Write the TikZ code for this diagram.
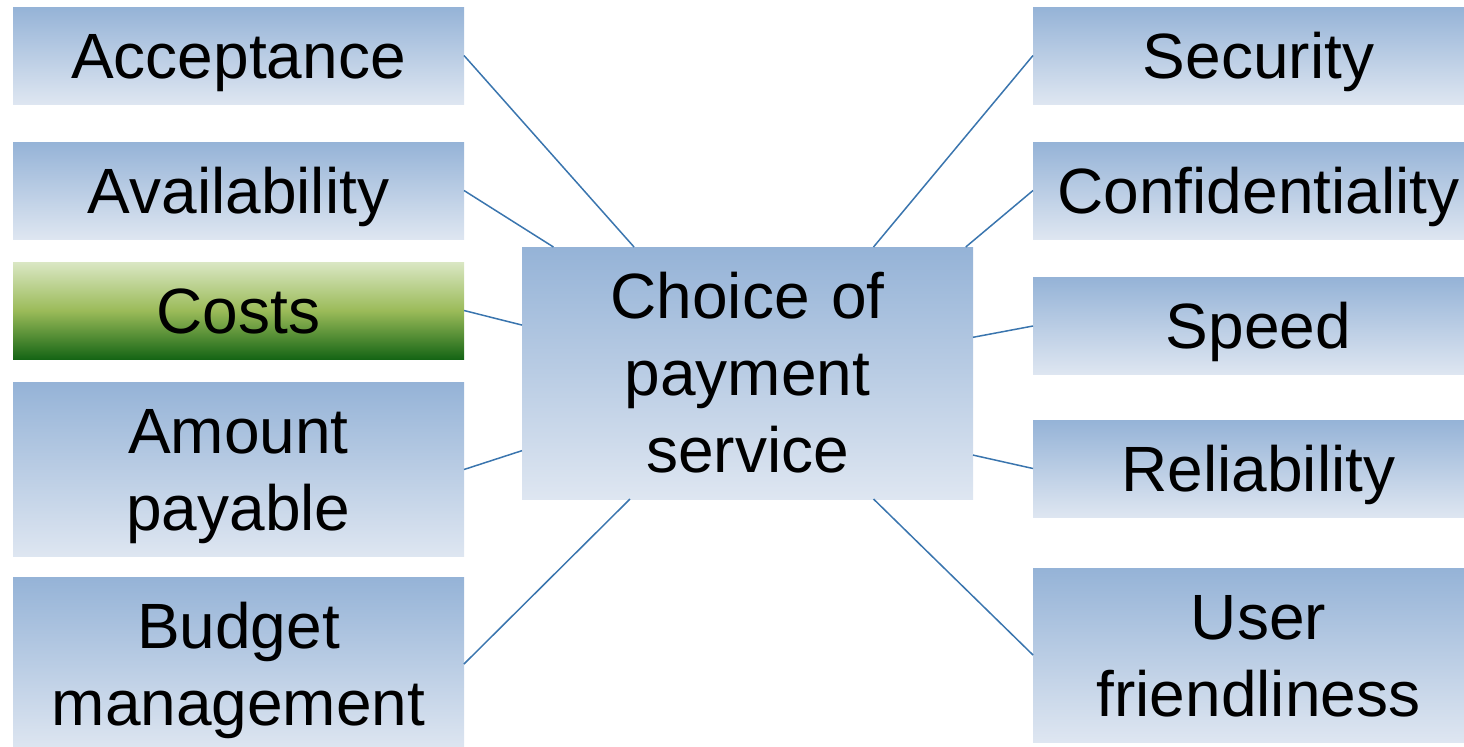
\documentclass[tikz,border=0pt]{standalone}
\usepackage{fontspec}
\setmainfont{Liberation Sans}
\usepackage{tikz}

\definecolor{boxtop}{HTML}{95B3D7}
\definecolor{boxbot}{HTML}{DEE6F1}
\definecolor{gtop}{HTML}{DAE7C4}
\definecolor{gmid}{HTML}{9BBB59}
\definecolor{gbot}{HTML}{156515}
\definecolor{linkblue}{HTML}{3A75AE}

\tikzset{
  factor/.style={rectangle, inner sep=0pt, outer sep=0pt,
    text width=220pt, align=center,
    minimum width=225.5pt, minimum height=48.5pt,
    top color=boxtop, bottom color=boxbot,
    font=\fontsize{32}{38.5}\selectfont,
    % fixed first-line height and last-line depth keep the text centred
    execute at begin node={\rule{0pt}{30.5pt}},
    execute at end node={\rule[-8pt]{0pt}{8pt}}},
  tall/.style={minimum height=87pt},
  greenbox/.style={top color=gtop, bottom color=gbot, middle color=gmid},
  link/.style={draw=linkblue, line width=0.75pt}
}

\begin{document}
\begin{tikzpicture}[x=0.5pt,y=0.5pt,yscale=-1,xscale=1]
 \useasboundingbox (0,0) rectangle (1464,746);
 \clip (0,0) rectangle (1464,746);

 % left column
 \node (acc) [factor] at (238.5,55.5) {Acceptance};
 \node (ava) [factor] at (238.5,190.5) {Availability};
 \node (cos) [factor,greenbox] at (238.5,310.5) {Costs};
 \node (amt) [factor,tall] at (238.5,469.5) {Amount\\payable};
 \node (bud) [factor,tall] at (238.5,664) {Budget\\management};

 % right column
 \node (sec) [factor] at (1258.5,55.5) {Security};
 \node (con) [factor] at (1258.5,190.5) {Confidentiality};
 \node (spd) [factor] at (1258.5,326) {Speed};
 \node (rel) [factor] at (1258.5,468.5) {Reliability};
 \node (usr) [factor,tall] at (1258.5,655) {User\\friendliness};

 % centre
 \node (choice) [factor,minimum height=126pt] at (747.5,373) {Choice of\\payment\\service};

 \draw [link] (acc.east) -- (choice.132.8);
 \draw [link] (ava.east) -- (choice.147.7);
 \draw [link] (cos.east) -- (choice.168);
 \draw [link] (amt.east) -- (choice.199.1);
 \draw [link] (bud.east) -- (choice.227.2);
 \draw [link] (sec.west) -- (choice.45);
 \draw [link] (con.west) -- (choice.30.7);
 \draw [link] (spd.west) -- (choice.9.1);
 \draw [link] (rel.west) -- (choice.340.7);
 \draw [link] (usr.west) -- (choice.315);
\end{tikzpicture}
\end{document}
